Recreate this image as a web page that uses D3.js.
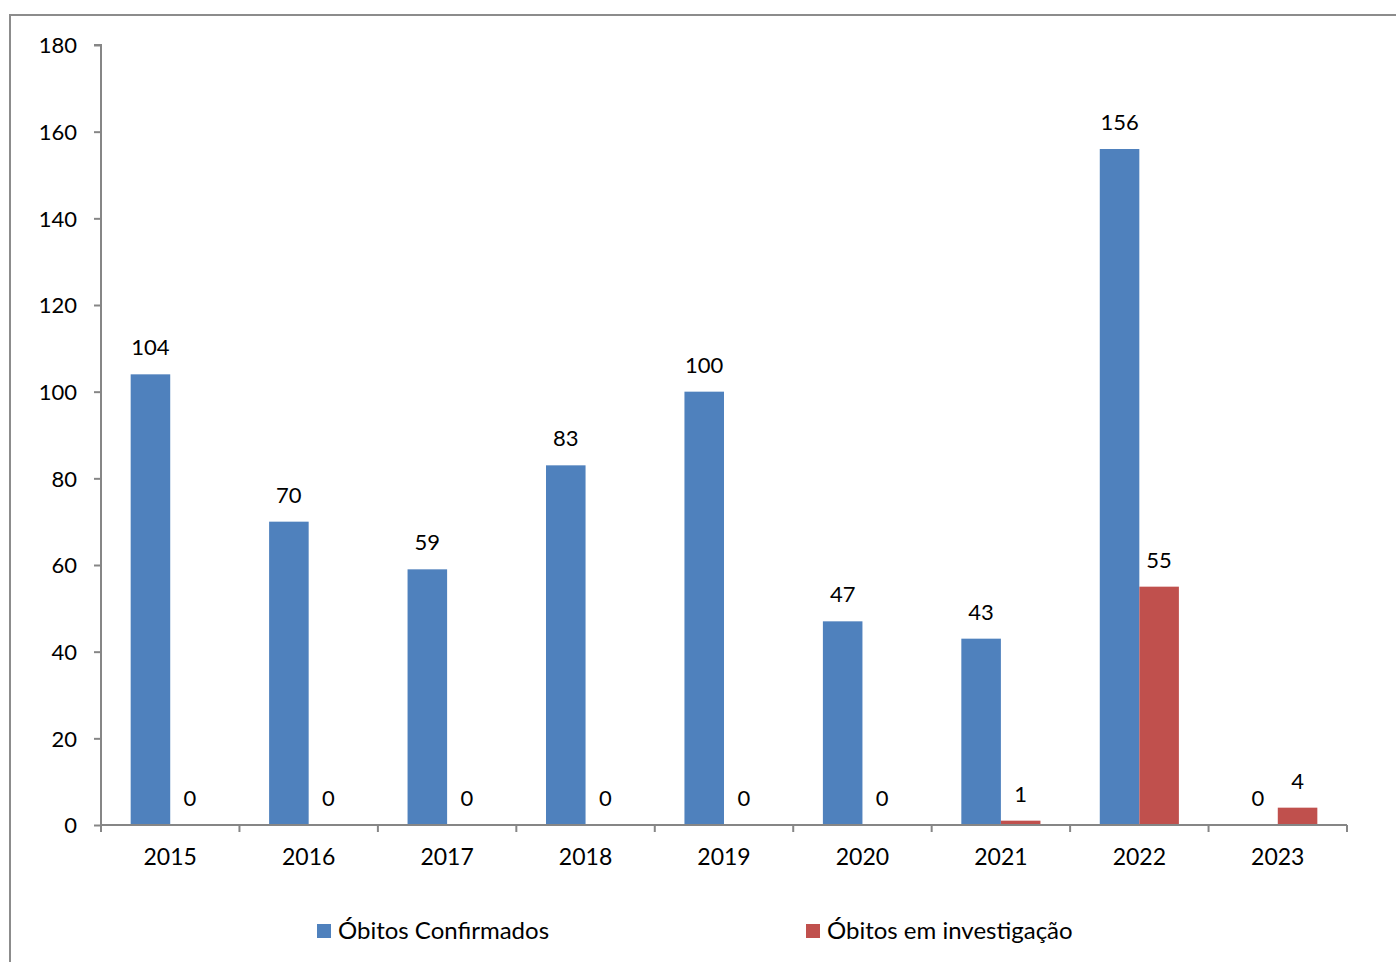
<!DOCTYPE html>
<html>
<head>
<meta charset="utf-8">
<script src="https://cdn.jsdelivr.net/npm/d3@7"></script>
<style>
html,body{margin:0;padding:0;background:#fff;}
svg{display:block;}
text{font-family:Lato,"Open Sans",sans-serif;fill:#000;}
</style>
</head>
<body>
<svg id="chart" width="1396" height="962"></svg>
<script>
const years = ["2015","2016","2017","2018","2019","2020","2021","2022","2023"];
const confirmados = [104,70,59,83,100,47,43,156,0];
const investigacao = [0,0,0,0,0,0,1,55,4];
const seriesNames = ["Óbitos Confirmados","Óbitos em investigação"];
const seriesColors = ["#4F81BD","#C0504D"];
const yTicks = [0,20,40,60,80,100,120,140,160,180];

const svg = d3.select("#chart");
// outer frame (right and bottom edges fall outside the picture)
svg.append("rect").attr("x",10).attr("y",15).attr("width",1400).attr("height",960)
  .attr("fill","none").attr("stroke","#8c8c8c").attr("stroke-width",2);

const pLeft=101, pRight=1347, pTop=45, pBottom=825;
const x = d3.scaleBand().domain(years).range([pLeft,pRight]).paddingInner(0).paddingOuter(0);
const y = d3.scaleLinear().domain([0,180]).range([pBottom,pTop]);
const inner = d3.scaleBand().domain([0,1]).range([0,x.bandwidth()]).paddingInner(0).paddingOuter(0.75);

const data = [confirmados, investigacao];

// bars
data.forEach((vals,si)=>{
  svg.append("g").selectAll("rect").data(years).join("rect")
    .attr("x",d=>x(d)+inner(si))
    .attr("width",inner.bandwidth())
    .attr("y",(d,i)=>y(vals[i]))
    .attr("height",(d,i)=>y(0)-y(vals[i]))
    .attr("fill",seriesColors[si]);
  svg.append("g").selectAll("text").data(years).join("text")
    .attr("x",d=>x(d)+inner(si)+inner.bandwidth()/2)
    .attr("y",(d,i)=>y(vals[i])-19)
    .attr("text-anchor","middle")
    .style("font-size","22px")
    .text((d,i)=>vals[i]);
});

// y axis
const yAxis = svg.append("g").attr("transform",`translate(${pLeft},0)`)
  .call(d3.axisLeft(y).tickValues(yTicks).tickSize(7).tickPadding(17).tickFormat(d3.format("d")));
yAxis.select(".domain").attr("stroke","#868686").attr("stroke-width",2).attr("d",`M-7,${pTop}H0V${pBottom}`);
yAxis.selectAll(".tick line").attr("stroke","#868686").attr("stroke-width",2);
yAxis.selectAll(".tick text").style("font-size","22px").style("font-family","Lato,'Open Sans',sans-serif").attr("fill","#000").attr("dy","0.35em");

// x axis
const xAxis = svg.append("g").attr("transform",`translate(0,${pBottom})`)
  .call(d3.axisBottom(x).tickSize(0).tickPadding(24));
xAxis.select(".domain").attr("stroke","#868686").attr("stroke-width",2).attr("d",`M${pLeft},0H${pRight}`);
xAxis.selectAll(".tick text").style("font-size","23px").style("font-family","Lato,'Open Sans',sans-serif").attr("fill","#000");
svg.append("g").selectAll("line").data(d3.range(years.length+1)).join("line")
  .attr("x1",i=>pLeft+i*x.step()).attr("x2",i=>pLeft+i*x.step())
  .attr("y1",pBottom).attr("y2",pBottom+7)
  .attr("stroke","#868686").attr("stroke-width",2);

// legend
const legendX = [317,806];
seriesNames.forEach((n,i)=>{
  svg.append("rect").attr("x",legendX[i]).attr("y",924).attr("width",14).attr("height",14).attr("fill",seriesColors[i]);
  svg.append("text").attr("x",legendX[i]+21).attr("y",939).style("font-size","24px").text(n);
});
</script>
</body>
</html>
